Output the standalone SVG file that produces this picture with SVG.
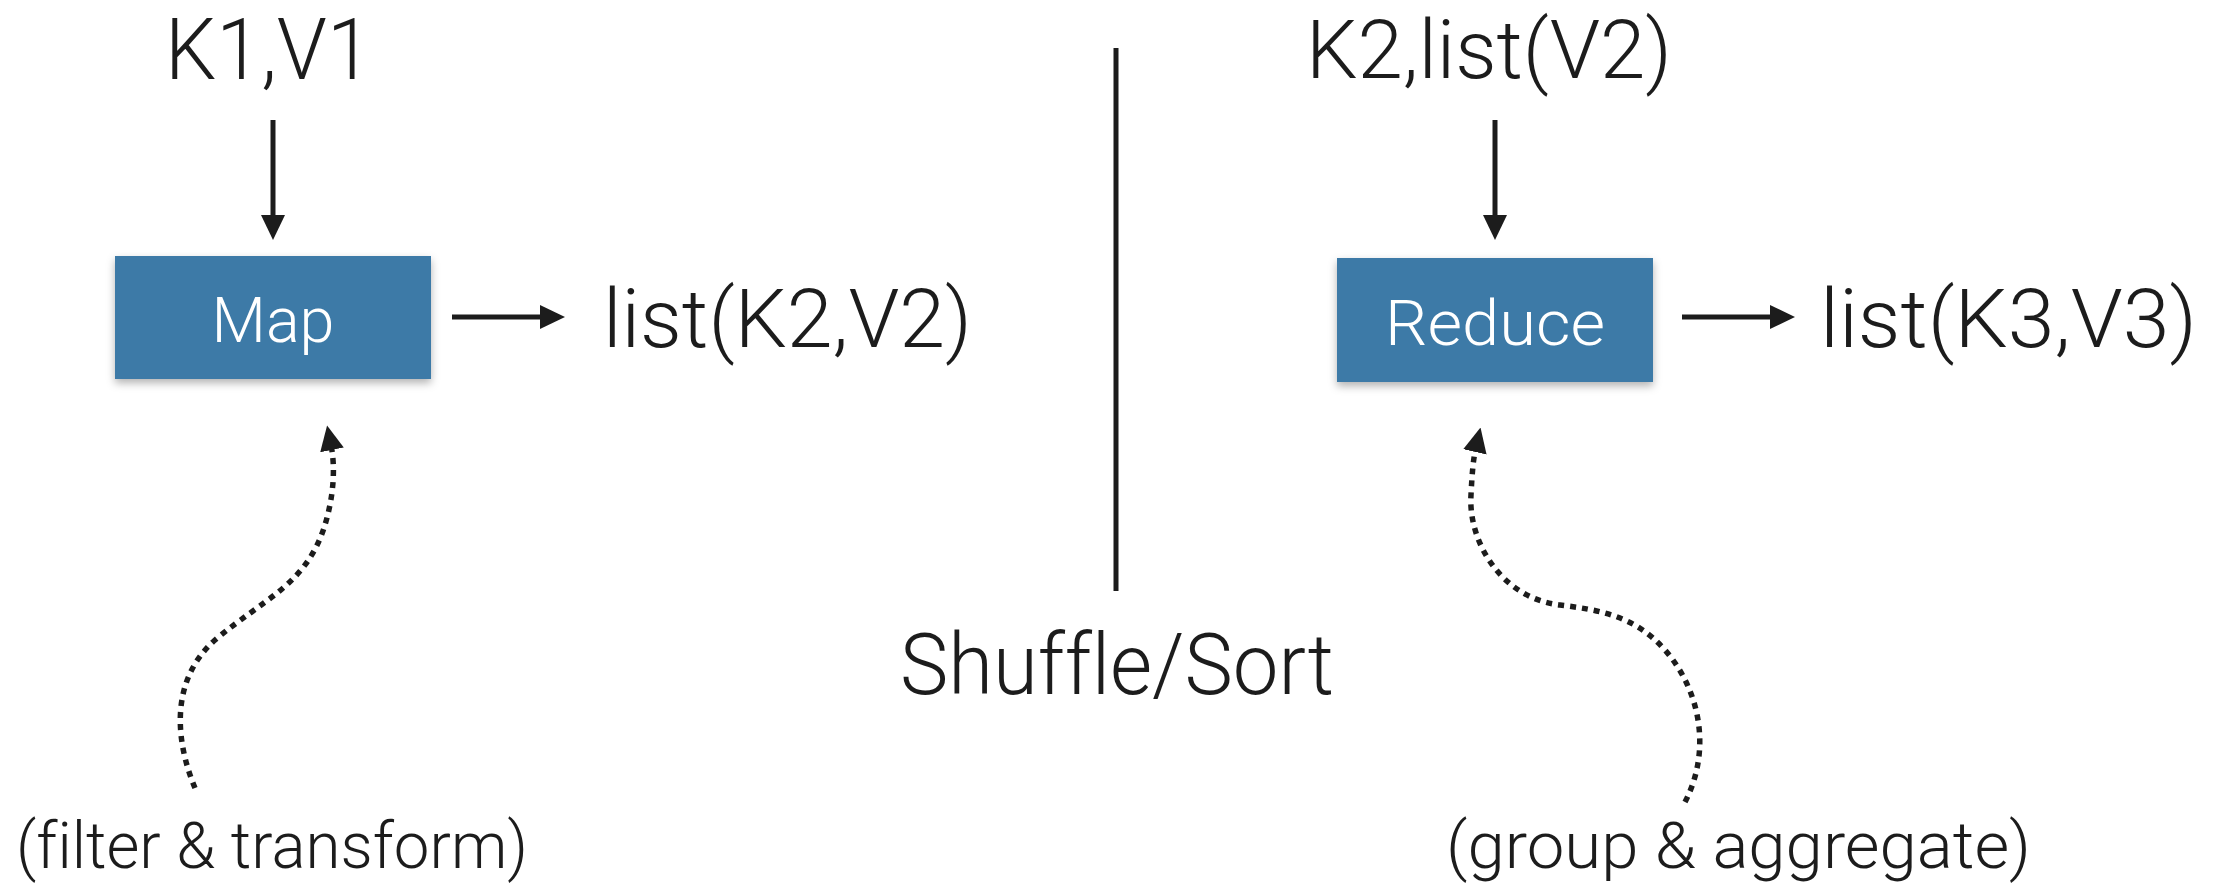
<svg xmlns="http://www.w3.org/2000/svg" width="2217" height="886" viewBox="0 0 2217 886">
  <style>
    text { font-variant-ligatures: none; font-feature-settings: "liga" 0, "clig" 0; }
    .lbl { font-family: Roboto, "Helvetica Neue", "Liberation Sans", sans-serif; font-weight: 300; fill: #1c1c1c; }
    .big { font-size: 82px; }
    .note { font-size: 64px; }
    .box { fill: #3c7aa7; filter: url(#shadow); }
    .boxtxt { font-family: Roboto, "Helvetica Neue", "Liberation Sans", sans-serif; font-weight: 300; font-size: 63px; fill: #ffffff; text-anchor: middle; }
    .wire { fill: none; stroke: #1c1c1c; stroke-width: 5; }
    .dots { fill: none; stroke: #1c1c1c; stroke-width: 5.5; stroke-dasharray: 6 6; }
  </style>
  <defs>
    <filter id="shadow" x="-10%" y="-20%" width="120%" height="150%">
      <feDropShadow dx="0" dy="4" stdDeviation="4" flood-color="#000" flood-opacity="0.3"/>
    </filter>
    <marker id="head" viewBox="0 0 25 24" refX="5" refY="12" markerWidth="25" markerHeight="24" markerUnits="userSpaceOnUse" orient="auto">
      <path d="M0,0 L25,12 L0,24 z" fill="#1c1c1c"/>
    </marker>
  </defs>
  <rect width="2217" height="886" fill="#ffffff"/>

  <!-- map side -->
  <g id="input-kv">
    <text class="lbl big" x="165" y="79" textLength="207" lengthAdjust="spacingAndGlyphs" style="font-size:86px">K1,V1</text>
  </g>
  <g id="map">
    <rect class="box" x="115" y="256" width="316" height="123"/>
    <text class="boxtxt" x="273" y="342" textLength="123" lengthAdjust="spacingAndGlyphs">Map</text>
  </g>
  <g id="map-output">
    <text class="lbl big" x="603" y="347" textLength="369" lengthAdjust="spacingAndGlyphs">list(K2,V2)</text>
  </g>
  <g id="map-note">
    <text class="lbl note" x="16" y="868" textLength="512" lengthAdjust="spacingAndGlyphs">(filter &amp; transform)</text>
  </g>

  <!-- shuffle divider -->
  <g id="shuffle">
    <line x1="1116" y1="48" x2="1116" y2="591" stroke="#1c1c1c" stroke-width="5"/>
    <text class="lbl big" x="900" y="694" textLength="434" lengthAdjust="spacingAndGlyphs" style="font-size:86px">Shuffle/Sort</text>
  </g>

  <!-- reduce side -->
  <g id="reduce-input">
    <text class="lbl big" x="1306" y="78" textLength="366" lengthAdjust="spacingAndGlyphs">K2,list(V2)</text>
  </g>
  <g id="reduce">
    <rect class="box" x="1337" y="258" width="316" height="124"/>
    <text class="boxtxt" x="1495" y="345" textLength="220" lengthAdjust="spacingAndGlyphs">Reduce</text>
  </g>
  <g id="reduce-output">
    <text class="lbl big" x="1820" y="347" textLength="377" lengthAdjust="spacingAndGlyphs">list(K3,V3)</text>
  </g>
  <g id="reduce-note">
    <text class="lbl note" x="1446" y="868" textLength="585" lengthAdjust="spacingAndGlyphs">(group &amp; aggregate)</text>
  </g>

  <!-- connectors -->
  <g id="connectors">
    <path class="wire" d="M273,120 V220" marker-end="url(#head)"/>
    <path class="wire" d="M452,317 H545" marker-end="url(#head)"/>
    <path class="wire" d="M1495,120 V220" marker-end="url(#head)"/>
    <path class="wire" d="M1682,317 H1775" marker-end="url(#head)"/>
    <path class="dots" d="M195,788 C175,740 170,680 215,640 C265,598 305,585 324,528 C333,500 336,470 331,445" marker-end="url(#head)"/>
    <path class="dots" d="M1685,802 C1712,750 1700,690 1665,650 C1635,616 1600,610 1560,605 C1500,598 1468,540 1471,495 C1472,475 1473,460 1476,447" marker-end="url(#head)"/>
  </g>
</svg>
